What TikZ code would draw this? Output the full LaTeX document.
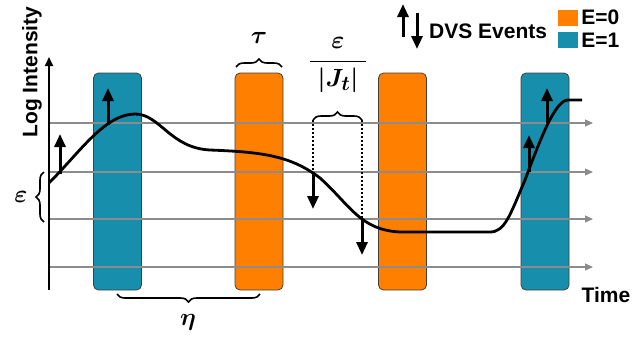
\documentclass[tikz,border=0pt]{standalone}
\usepackage{amsmath}
\usepackage{fontspec}
\setmainfont{Liberation Sans}
\usetikzlibrary{positioning,arrows.meta,decorations.pathreplacing,calc}
\definecolor{evorange}{RGB}{255,128,0}
\definecolor{evblue}{RGB}{23,142,172}
\tikzset{
  win/.style={draw=black!75, rounded corners=5pt, minimum width=48pt,
              minimum height=217pt, inner sep=0pt, line width=0.8pt},
  lvl/.style={draw=black!45, line width=1.1pt, -{Triangle[length=8pt,width=7pt]}},
  evt/.style={line width=3pt, -{Triangle[length=13pt,width=11pt]}},
  brc/.style={decorate, decoration={brace, amplitude=8pt}, line width=1.6pt},
  lbl/.style={font=\fontsize{21}{25}\selectfont\bfseries, inner sep=0pt},
  mth/.style={font=\fontsize{32}{36}\selectfont\boldmath, inner sep=0pt},
}

\begin{document}
\begin{tikzpicture}[x=1pt, y=-1pt]
    \useasboundingbox (0,0) rectangle (642,341);
    % exposure windows
    \node[win, fill=evblue] (b1) at (117.5,181.5) {};
    \node[win, fill=evorange] (o1) at (259,181.5) {};
    \node[win, fill=evorange] (o2) at (402.5,181.5) {};
    \node[win, fill=evblue] (b2) at (545,181.5) {};
    % threshold levels
    \foreach \y [count=\i] in {123,172,219,267} {
      \coordinate (s\i) at (49,\y);
      \coordinate (t\i) at (593,\y);
      \draw[lvl] (s\i) -- (t\i);
    }
    % axis
    \coordinate (ax0) at (49,290);
    \coordinate (ax1) at (49,57);
    \draw[line width=1.8pt, -{Triangle[length=9pt,width=8pt]}] (ax0) -- (ax1);
    \node[lbl, rotate=90] (ylab) at (32,72) {Log Intensity};
    \node[lbl] (xlab) at (606,295) {Time};
    % log intensity
    \draw[line width=2.8pt] (49,183) .. controls (80,152) and (105,114) .. (135,114)
      .. controls (160,114) and (170,148) .. (210,150)
      .. controls (260,152) and (290,155) .. (320,178)
      .. controls (350,205) and (360,230) .. (400,232)
      -- (490,232)
      .. controls (505,232) and (510,215) .. (525,180)
      .. controls (540,140) and (555,100) .. (568,100) -- (582,100);
    % events
    \coordinate (p1) at (60,174);  \coordinate (q1) at (60,134);
    \coordinate (p2) at (108,125); \coordinate (q2) at (108,88);
    \coordinate (n1) at (313,172); \coordinate (m1) at (313,209);
    \coordinate (n2) at (362,219); \coordinate (m2) at (362,255);
    \coordinate (p3) at (529,172); \coordinate (q3) at (529,135);
    \coordinate (p4) at (547,123); \coordinate (q4) at (547,88);
    \draw[evt] (p1) -- (q1);
    \draw[evt] (p2) -- (q2);
    \draw[evt] (n1) -- (m1);
    \draw[evt] (n2) -- (m2);
    \draw[evt] (p3) -- (q3);
    \draw[evt] (p4) -- (q4);
    % braces
    \coordinate (jl) at (313,120);
    \coordinate (jr) at (362,120);
    \draw[line width=2pt, dotted] (jl) -- (n1);
    \draw[line width=2pt, dotted] (jr) -- (n2);
    \draw[brc] (jl) -- (jr);
    \node[mth] (frac) at (338,65) {$\dfrac{\varepsilon}{\;|J_t|\;}$};
    \draw[brc] (236,67) -- (282,67);
    \node[mth] (tau) at (259,38) {$\tau$};
    \draw[brc] (260,294) -- (117,294);
    \node[mth] (eta) at (188,322) {$\eta$};
    \draw[brc] (44,222) -- (44,172);
    \node[mth, font=\fontsize{40}{44}\selectfont\boldmath] (eps) at (21,197) {$\varepsilon$};
    % legend
    \coordinate (u0) at (403,37); \coordinate (u1) at (403,4);
    \coordinate (d0) at (417,13); \coordinate (d1) at (417,49);
    \draw[evt] (u0) -- (u1);
    \draw[evt] (d0) -- (d1);
    \node[lbl, anchor=west] (dvs) at (429,31) {DVS Events};
    \node[draw=white, fill=evorange, minimum width=21pt, minimum height=17pt, inner sep=0pt] (k0) at (567.5,17.5) {};
    \node[draw=white, fill=evblue, minimum width=21pt, minimum height=17pt, inner sep=0pt] (k1) at (567.5,40) {};
    \node[lbl, right=3pt of k0] (e0) {E=0};
    \node[lbl, right=3pt of k1] (e1) {E=1};
  \end{tikzpicture}
\end{document}
